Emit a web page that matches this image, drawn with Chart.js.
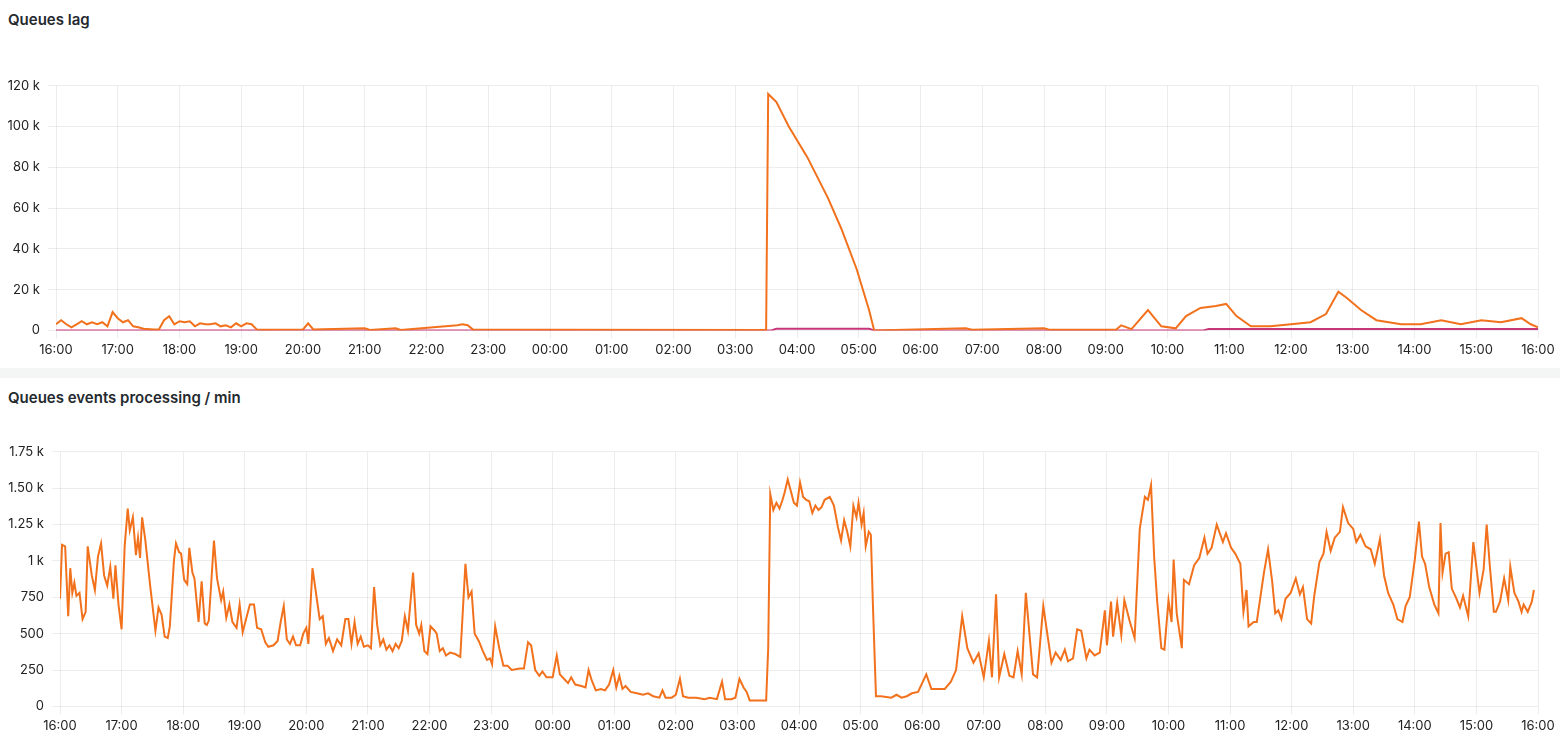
<!DOCTYPE html>
<html>
<head>
<meta charset="utf-8">
<script src="https://cdn.jsdelivr.net/npm/chart.js@4"></script>
<style>
  body { margin: 0; width: 1560px; height: 744px; background: #f4f5f5; font-family: Inter, sans-serif; overflow: hidden; }
  .panel { position: absolute; left: 0; width: 1560px; background: #fff; }
  .title { position: absolute; left: 8px; font-size: 15px; font-weight: 600; color: #24292e; }
  .box { position: absolute; left: 0; width: 1560px; }
</style>
</head>
<body>
<div class="panel" style="top:0;height:368px">
  <div class="title" style="top:10px">Queues lag</div>
  <div class="box" style="top:70px;height:292px"><canvas id="lag"></canvas></div>
</div>
<div class="panel" style="top:378px;height:366px">
  <div class="title" style="top:10px">Queues events processing / min</div>
  <div class="box" style="top:58px;height:302px"><canvas id="proc"></canvas></div>
</div>
<script>
// minutes since 16:00
const hourLabels = ["16:00","17:00","18:00","19:00","20:00","21:00","22:00","23:00","00:00","01:00","02:00","03:00",
  "04:00","05:00","06:00","07:00","08:00","09:00","10:00","11:00","12:00","13:00","14:00","15:00","16:00"];

// Queues lag (orange)
const lagTimes = [0,5,10,15,20,25,30,35,40,45,50,55,60,65,70,75,80,85,95,100,105,110,115,120,125,130,135,140,145,150,
  155,160,165,170,175,180,185,190,195,200,240,245,250,300,305,330,335,390,395,400,405,480,690,692,700,712,730,750,763,
  778,790,795,884,890,960,965,1030,1035,1045,1061,1074,1088,1098,1112,1127,1137,1147,1161,1180,1200,1219,1234,1246,
  1254,1268,1283,1307,1326,1346,1365,1385,1404,1424,1433,1440];
const lagValues = [3000,5000,3000,1500,3000,4500,3000,4000,3000,4000,2000,9000,6000,4000,5000,2000,1500,800,500,500,
  5000,7000,3000,4500,4000,4500,2000,3500,3000,3000,3500,2000,2500,1500,3500,2000,3500,3000,500,300,500,3500,500,1000,
  200,1000,200,2500,3000,2500,500,300,200,116000,112000,100000,85000,65000,50000,30000,10000,0,1000,300,1000,300,300,
  2500,600,10000,2000,1000,7000,11000,12000,13000,7000,2000,2000,3000,4000,8000,19000,16000,10000,5000,3000,3000,5000,
  3000,5000,4000,6000,3000,1500];
// Queues lag (pink, near zero)
const lagTimes2 = [0,695,700,790,795,1115,1120,1440];
const lagValues2 = [0,0,800,800,0,0,700,700];

// Queues events processing / min
const procTimes = [0,2,5,8,10,12,14,16,19,22,25,27,31,34,37,40,43,46,49,52,54,57,60,63,66,68,71,74,76,78,80,83,88,93,96,
  99,102,105,107,111,113,116,118,121,124,126,129,131,135,138,141,143,145,150,153,157,159,162,165,168,172,175,178,182,
  185,189,192,196,200,203,208,212,215,218,221,224,227,230,234,237,240,242,246,249,253,256,259,262,266,270,274,278,281,
  284,287,290,293,296,300,303,306,309,312,315,318,321,324,327,330,333,336,339,344,347,350,352,355,358,361,365,367,370,
  373,376,380,385,390,395,398,401,404,408,412,416,419,421,424,428,432,436,440,448,452,456,459,463,467,470,474,480,484,
  487,491,495,498,502,508,512,515,518,522,527,531,535,539,542,545,548,551,556,562,568,573,578,584,587,590,596,600,604,
  607,612,620,628,633,640,645,648,654,658,662,666,669,672,680,688,690,692,695,698,701,704,706,709,712,715,718,721,724,
  727,730,733,736,739,742,745,750,754,758,761,764,767,770,773,776,778,781,783,785,788,790,792,795,800,810,815,820,825,
  830,836,844,849,856,862,868,873,879,884,890,895,900,905,908,912,915,920,925,929,933,937,941,948,952,958,966,970,975,
  979,982,987,991,995,1000,1003,1008,1013,1018,1020,1024,1026,1030,1034,1037,1042,1047,1052,1057,1060,1063,1066,1069,
  1073,1076,1080,1083,1085,1088,1093,1095,1100,1105,1110,1115,1118,1122,1127,1133,1136,1141,1145,1150,1153,1156,1158,
  1163,1166,1173,1177,1181,1184,1187,1190,1194,1199,1204,1208,1211,1215,1219,1222,1227,1231,1234,1238,1242,1247,1250,
  1255,1260,1263,1267,1272,1277,1281,1286,1290,1294,1299,1303,1308,1311,1315,1320,1324,1327,1330,1334,1339,1343,1345,
  1347,1350,1353,1356,1360,1364,1367,1372,1377,1383,1387,1390,1393,1397,1399,1403,1407,1411,1413,1417,1421,1424,1426,
  1430,1434,1436,1440];
const procValues = [740,1110,1100,620,950,780,850,760,780,600,650,1100,900,800,1030,1120,900,830,960,740,970,700,530,
  1100,1360,1210,1300,1040,1160,1020,1300,1150,820,520,680,630,480,470,550,1000,1120,1060,1050,870,840,1090,920,880,580,
  860,570,560,590,1140,880,730,790,610,700,580,540,700,510,620,700,700,540,530,440,410,420,450,580,690,460,430,480,420,
  420,500,540,430,950,800,600,620,430,470,380,460,420,600,600,430,580,430,480,410,420,400,820,560,420,460,390,420,380,
  430,400,450,620,520,920,560,500,560,380,360,550,520,500,380,400,350,370,360,340,980,750,790,500,450,380,320,330,290,
  550,400,280,280,250,260,260,440,420,250,210,240,200,200,350,220,190,160,200,150,140,130,250,180,110,120,110,150,250,
  130,210,120,140,100,90,80,90,70,60,110,60,60,80,190,70,60,60,50,60,50,170,50,50,60,190,130,100,40,40,40,400,1460,1350,
  1400,1360,1420,1470,1560,1480,1400,1380,1540,1440,1420,1410,1330,1380,1350,1370,1420,1440,1380,1230,1140,1280,1200,
  1100,1380,1300,1400,1250,1330,1100,1200,1180,700,70,70,60,80,60,70,90,100,220,120,120,120,170,250,620,400,300,365,200,
  450,200,770,200,360,210,200,380,220,780,220,200,690,300,370,320,390,310,330,530,520,330,390,350,370,660,420,720,480,
  710,490,730,590,470,1220,1440,1420,1520,1030,720,400,390,730,580,1010,640,400,870,840,970,1020,1160,1050,1090,1250,
  1130,1190,1090,1050,980,650,800,550,580,580,920,1080,860,640,660,600,740,780,880,770,820,600,570,760,990,1050,1200,
  1070,1160,1200,1370,1260,1220,1130,1180,1100,1080,980,1150,900,780,700,600,580,690,750,1010,1270,1030,980,820,700,640,
  1260,920,1050,1060,810,750,680,760,620,1130,780,940,1250,970,650,650,720,880,730,960,780,720,650,700,650,720,800];

const lagTicks = { 0: "0", 20000: "20 k", 40000: "40 k", 60000: "60 k", 80000: "80 k", 100000: "100 k", 120000: "120 k" };
const procTicks = { 0: "0", 250: "250", 500: "500", 750: "750", 1000: "1 k", 1250: "1.25 k", 1500: "1.50 k", 1750: "1.75 k" };

const toPoints = (xs, ys) => xs.map((x, i) => ({ x: x, y: ys[i] }));
const font = { family: "Inter, sans-serif", size: 13 };
const grid = { color: "rgba(0,0,0,0.07)" };

function makeChart(id, datasets, yMax, yStep, yLabels, yWidth, top) {
  return new Chart(document.getElementById(id), {
    type: 'line',
    data: { datasets: datasets },
    options: {
      responsive: true,
      maintainAspectRatio: false,
      animation: false,
      layout: { padding: { top: top, right: 22, bottom: 0, left: 0 } },
      plugins: { legend: { display: false }, tooltip: { enabled: false } },
      elements: { point: { radius: 0 }, line: { tension: 0 } },
      scales: {
        x: {
          type: 'linear', min: 0, max: 1440,
          grid: grid, border: { display: false },
          ticks: {
            stepSize: 60, autoSkip: false, maxRotation: 0, color: "#222", font: font, padding: 4,
            callback: v => hourLabels[v / 60]
          }
        },
        y: {
          min: 0, max: yMax,
          grid: grid, border: { display: false },
          afterFit: s => { s.width = yWidth; },
          ticks: { stepSize: yStep, color: "#222", font: font, padding: 8, callback: v => yLabels[v] }
        }
      }
    }
  });
}

makeChart('lag', [
  { data: toPoints(lagTimes, lagValues), borderColor: '#f2711c', borderWidth: 2 },
  { data: toPoints(lagTimes2, lagValues2), borderColor: '#c8367a', borderWidth: 2 }
], 120000, 20000, lagTicks, 56, 8);

makeChart('proc', [
  { data: toPoints(procTimes, procValues), borderColor: '#f2711c', borderWidth: 2 }
], 1750, 250, procTicks, 60, 8);
</script>
</body>
</html>
